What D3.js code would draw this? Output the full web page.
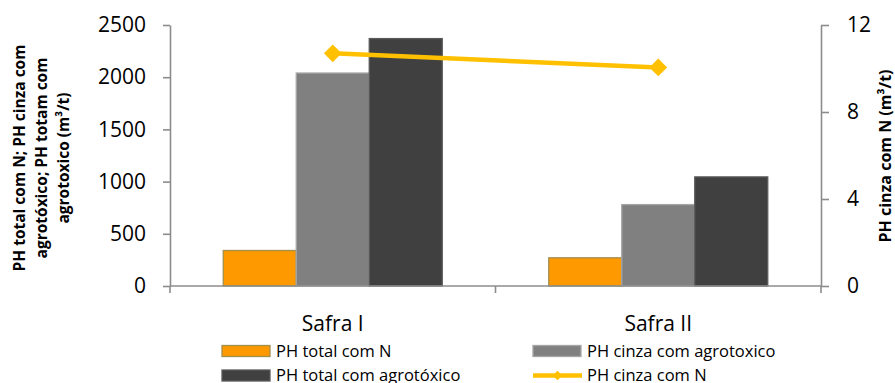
<!DOCTYPE html>
<html>
<head>
<meta charset="utf-8">
<script src="https://cdn.jsdelivr.net/npm/d3@7"></script>
<style>
  html, body { margin: 0; padding: 0; background: #fff; }
  svg { display: block; font-family: "Open Sans", sans-serif; }
</style>
</head>
<body>
<svg id="chart" width="895" height="383"></svg>
<script>
// Categories and series
const categories = ["Safra I", "Safra II"];
const barSeries = ["PH total com N", "PH cinza com agrotoxico", "PH total com agrotóxico"];
const totalComN = [340, 270];
const cinzaComAgrotoxico = [2040, 780];
const totalComAgrotoxico = [2370, 1045];
const cinzaComN = [10.7, 10.05];
const leftTicks = [0, 500, 1000, 1500, 2000, 2500];
const rightTicks = [0, 4, 8, 12];

const barValues = [totalComN, cinzaComAgrotoxico, totalComAgrotoxico];
const barFill = ["#FF9900", "#808080", "#404040"];
const barStroke = ["#A09050", "#A6A6A6", "#5A5A5A"];
const lineColor = "#FFC000";
const axisColor = "#8C8C8C";

const svg = d3.select("#chart");
const plot = { left: 170, right: 821, top: 25, bottom: 286 };

const x0 = d3.scaleBand().domain(categories).range([plot.left, plot.right]).padding(0);
const gap = x0.bandwidth() * 0.1636;
const x1 = d3.scaleBand().domain(barSeries).range([gap, x0.bandwidth() - gap]).padding(0);
const yL = d3.scaleLinear().domain([0, 2500]).range([plot.bottom, plot.top]);
const yR = d3.scaleLinear().domain([0, 12]).range([plot.bottom, plot.top]);

// Bars
barSeries.forEach((s, si) => {
  svg.append("g").selectAll("rect")
    .data(categories)
    .join("rect")
    .attr("x", c => x0(c) + x1(s))
    .attr("width", x1.bandwidth())
    .attr("y", (c, i) => yL(barValues[si][i]))
    .attr("height", (c, i) => plot.bottom - yL(barValues[si][i]))
    .attr("fill", barFill[si])
    .attr("stroke", barStroke[si])
    .attr("stroke-width", 1.3);
});

// Axes
const axisStyle = g => {
  g.select(".domain").attr("stroke", axisColor).attr("stroke-width", 1.6);
  g.selectAll(".tick line").attr("stroke", axisColor).attr("stroke-width", 1.6);
  g.selectAll(".tick text").attr("fill", "#000").style("font-size", "21px")
    .style("font-family", "'Open Sans', sans-serif");
};

svg.append("g")
  .attr("transform", `translate(${plot.left},0)`)
  .call(d3.axisLeft(yL).tickValues(leftTicks).tickFormat(d3.format("d"))
    .tickSize(7).tickSizeOuter(0).tickPadding(17))
  .call(axisStyle);

svg.append("g")
  .attr("transform", `translate(${plot.right},0)`)
  .call(d3.axisRight(yR).tickValues(rightTicks).tickFormat(d3.format("d"))
    .tickSize(8).tickSizeOuter(0).tickPadding(18))
  .call(axisStyle);

// Category axis: baseline with ticks between categories
const catTicks = [plot.left, ...categories.slice(1).map(c => x0(c)), plot.right];
const xAxis = svg.append("g");
xAxis.append("line")
  .attr("x1", plot.left).attr("x2", plot.right)
  .attr("y1", plot.bottom).attr("y2", plot.bottom)
  .attr("stroke", axisColor).attr("stroke-width", 1.6);
xAxis.selectAll("line.t").data(catTicks).join("line").attr("class", "t")
  .attr("x1", d => d).attr("x2", d => d)
  .attr("y1", plot.bottom).attr("y2", plot.bottom + 7)
  .attr("stroke", axisColor).attr("stroke-width", 1.6);
xAxis.selectAll("text").data(categories).join("text")
  .attr("x", c => x0(c) + x0.bandwidth() / 2)
  .attr("y", 331)
  .attr("text-anchor", "middle")
  .style("font-size", "21px")
  .text(c => c);

// Line series on the secondary axis
const pts = categories.map((c, i) => [x0(c) + x0.bandwidth() / 2, yR(cinzaComN[i])]);
svg.append("path")
  .attr("d", d3.line()(pts))
  .attr("fill", "none")
  .attr("stroke", lineColor)
  .attr("stroke-width", 4.5);
const diamond = d3.symbol().type(d3.symbolDiamond2).size(200);
svg.append("g").selectAll("path")
  .data(pts)
  .join("path")
  .attr("transform", d => `translate(${d[0]},${d[1]})`)
  .attr("d", diamond)
  .attr("fill", lineColor);

// Axis titles
svg.append("text")
  .attr("transform", "translate(20,158) rotate(-90)")
  .attr("text-anchor", "middle")
  .style("font-size", "15.5px").style("font-weight", "bold")
  .selectAll("tspan")
  .data(["PH total com N; PH cinza com", "agrotóxico; PH totam com", "agrotoxico (m³/t)"])
  .join("tspan")
  .attr("x", 0)
  .attr("dy", (d, i) => i === 0 ? "0.35em" : "22px")
  .text(d => d);

svg.append("text")
  .attr("transform", "translate(885,156) rotate(-90)")
  .attr("text-anchor", "middle")
  .attr("dy", "0.35em")
  .style("font-size", "16px").style("font-weight", "bold")
  .text("PH cinza com N (m³/t)");

// Legend
const legendItems = [
  { label: "PH total com N", x: 222, y: 351, type: "bar", i: 0 },
  { label: "PH cinza com agrotoxico", x: 533, y: 351, type: "bar", i: 1 },
  { label: "PH total com agrotóxico", x: 222, y: 375.5, type: "bar", i: 2 },
  { label: "PH cinza com N", x: 533, y: 375.5, type: "line" }
];
const leg = svg.append("g").selectAll("g").data(legendItems).join("g")
  .attr("transform", d => `translate(${d.x},${d.y})`);
leg.filter(d => d.type === "bar").append("rect")
  .attr("x", 0).attr("y", -5.5).attr("width", 48).attr("height", 11)
  .attr("fill", d => barFill[d.i]).attr("stroke", d => barStroke[d.i]).attr("stroke-width", 1.3);
leg.filter(d => d.type === "line").append("line")
  .attr("x1", 0).attr("x2", 49).attr("y1", 0).attr("y2", 0)
  .attr("stroke", lineColor).attr("stroke-width", 4.5);
leg.filter(d => d.type === "line").append("path")
  .attr("transform", "translate(24.5,0)")
  .attr("d", d3.symbol().type(d3.symbolDiamond2).size(60))
  .attr("fill", lineColor);
leg.append("text")
  .attr("x", 54).attr("dy", "0.35em")
  .style("font-size", "16.5px")
  .text(d => d.label);
</script>
</body>
</html>
